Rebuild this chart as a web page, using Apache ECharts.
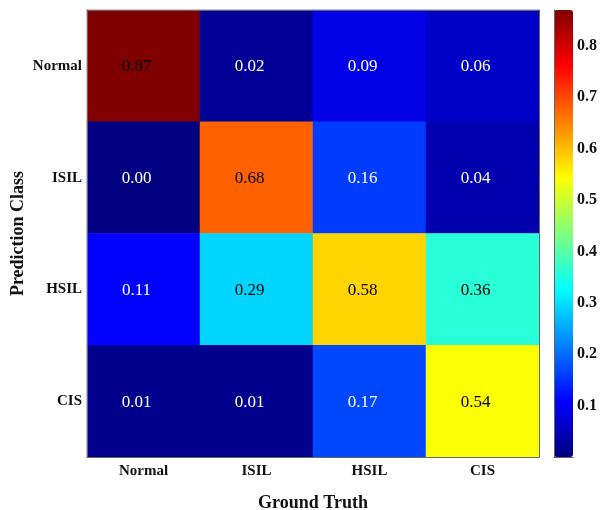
<!DOCTYPE html>
<html>
<head>
<meta charset="utf-8">
<script src="https://cdn.jsdelivr.net/npm/echarts@6/dist/echarts.min.js"></script>
<style>html,body{margin:0;padding:0;background:#fff;}#c{width:600px;height:510px;}</style>
</head>
<body>
<div id="c"></div>
<script>
var truthClasses = ['Normal', 'ISIL', 'HSIL', 'CIS'];
var predClasses = ['Normal', 'ISIL', 'HSIL', 'CIS'];
var rowNormal = [0.87, 0.02, 0.09, 0.06];
var rowISIL = [0.00, 0.68, 0.16, 0.04];
var rowHSIL = [0.11, 0.29, 0.58, 0.36];
var rowCIS = [0.01, 0.01, 0.17, 0.54];
var colorbarMin = 0;
var colorbarMax = 0.87;
var colorbarTicks = [0.1, 0.2, 0.3, 0.4, 0.5, 0.6, 0.7, 0.8];

var rows = [rowNormal, rowISIL, rowHSIL, rowCIS];
var jet = ['#000080', '#0000ff', '#0080ff', '#00ffff', '#80ff80', '#ffff00', '#ff8000', '#ff0000', '#800000'];
var serif = '"Liberation Serif", "Times New Roman", serif';

var data = [];
rows.forEach(function (r, yi) {
  r.forEach(function (v, xi) {
    data.push({
      value: [xi, yi, v],
      label: { color: v > 0.2 ? '#000' : '#fff' }
    });
  });
});

var chart = echarts.init(document.getElementById('c'), null, { renderer: 'canvas' });
var axisCol = '#666';
var tickCol = '#333';
chart.setOption({
  animation: false,
  backgroundColor: '#fff',
  grid: [
    { left: 87, top: 10, width: 452, height: 447, containLabel: false, outerBoundsMode: 'none' },
    { left: 554, top: 10, width: 19, height: 447, containLabel: false, outerBoundsMode: 'none' }
  ],
  xAxis: [
    {
      type: 'category', data: truthClasses, gridIndex: 0, position: 'bottom',
      name: 'Ground Truth', nameLocation: 'middle', nameGap: 37, nameMoveOverlap: false,
      nameTextStyle: { fontFamily: serif, fontWeight: 'bold', fontSize: 18, color: '#111' },
      axisLine: { lineStyle: { color: axisCol } },
      axisTick: { inside: true, alignWithLabel: true, length: 4, lineStyle: { color: tickCol } },
      axisLabel: { fontFamily: serif, fontWeight: 'bold', fontSize: 15, color: '#111', margin: 7 },
      splitLine: { show: false }, z: 5
    },
    {
      type: 'category', data: truthClasses, gridIndex: 0, position: 'top',
      axisLine: { lineStyle: { color: axisCol } },
      axisTick: { inside: true, alignWithLabel: true, length: 4, lineStyle: { color: tickCol } },
      axisLabel: { show: false }, splitLine: { show: false }, z: 5
    },
    {
      type: 'value', gridIndex: 1, position: 'bottom', min: 0, max: 1,
      axisLine: { show: true, lineStyle: { color: axisCol } },
      axisTick: { show: false }, axisLabel: { show: false }, splitLine: { show: false }, z: 5
    },
    {
      type: 'value', gridIndex: 1, position: 'top', min: 0, max: 1,
      axisLine: { show: true, lineStyle: { color: axisCol } },
      axisTick: { show: false }, axisLabel: { show: false }, splitLine: { show: false }, z: 5
    }
  ],
  yAxis: [
    {
      type: 'category', data: predClasses, gridIndex: 0, inverse: true, position: 'left',
      name: 'Prediction Class', nameLocation: 'middle', nameGap: 60, nameRotate: 90, nameMoveOverlap: false,
      nameTextStyle: { fontFamily: serif, fontWeight: 'bold', fontSize: 18, color: '#111' },
      axisLine: { lineStyle: { color: axisCol } },
      axisTick: { inside: true, alignWithLabel: true, length: 4, lineStyle: { color: tickCol } },
      axisLabel: { fontFamily: serif, fontWeight: 'bold', fontSize: 15, color: '#111', margin: 5 },
      splitLine: { show: false }, z: 5
    },
    {
      type: 'category', data: predClasses, gridIndex: 0, inverse: true, position: 'right',
      axisLine: { lineStyle: { color: axisCol } },
      axisTick: { inside: true, alignWithLabel: true, length: 4, lineStyle: { color: tickCol } },
      axisLabel: { show: false }, splitLine: { show: false }, z: 5
    },
    {
      type: 'value', gridIndex: 1, position: 'right', min: colorbarMin, max: colorbarMax, interval: 0.1,
      axisLine: { show: true, lineStyle: { color: axisCol } },
      axisTick: { show: false },
      axisLabel: {
        fontFamily: serif, fontWeight: 'bold', fontSize: 16, color: '#111', margin: 4,
        formatter: function (v) {
          var s = v.toFixed(1);
          return colorbarTicks.indexOf(parseFloat(s)) >= 0 ? s : '';
        }
      },
      splitLine: { show: false }, z: 5
    },
    {
      type: 'value', gridIndex: 1, position: 'left', min: colorbarMin, max: colorbarMax, interval: 0.1,
      axisLine: { show: true, lineStyle: { color: axisCol } },
      axisTick: { show: false },
      axisLabel: { show: false }, splitLine: { show: false }, z: 5
    }
  ],
  visualMap: {
    type: 'continuous', min: colorbarMin, max: colorbarMax, dimension: 2, seriesIndex: 0,
    calculable: false, show: true, left: 554, top: 10, itemWidth: 19, itemHeight: 447,
    padding: 0, text: null, showLabel: false, inRange: { color: jet }, z: 2
  },
  series: [{
    type: 'heatmap', xAxisIndex: 0, yAxisIndex: 0, data: data, z: 1,
    label: {
      show: true, fontFamily: serif, fontSize: 17, offset: [-7, 1],
      formatter: function (p) { return p.value[2].toFixed(2); }
    },
    itemStyle: { borderWidth: 0 }
  }]
});
</script>
</body>
</html>
